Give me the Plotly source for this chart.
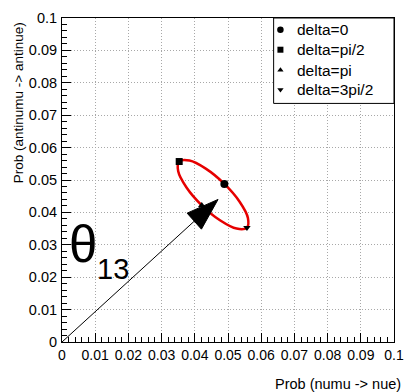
import math
import plotly.graph_objects as go

# Oscillation probabilities around the CP-phase ellipse (delta in degrees)
delta_deg = [0, 30, 60, 90, 120, 150, 180, 210, 240, 270, 300, 330, 360]
p_numu_nue = [0.0489, 0.0433, 0.0384, 0.0353, 0.0350, 0.0375, 0.0421,
              0.0477, 0.0526, 0.0557, 0.0560, 0.0535, 0.0489]
p_antinumu_antinue = [0.0488, 0.0535, 0.0560, 0.0557, 0.0527, 0.0477, 0.0422,
                      0.0375, 0.0350, 0.0353, 0.0383, 0.0433, 0.0488]

# Highlighted phases
marker_delta = [0, 90, 180, 270]
marker_labels = ["delta=0", "delta=pi/2", "delta=pi", "delta=3pi/2"]
marker_symbols = ["circle", "square", "triangle-up", "triangle-down"]
marker_sizes = [8, 7, 6.5, 6.5]
legend_sizes = [6.5, 6, 5.5, 5.5]

# theta13 direction arrow (origin -> tip)
arrow_start = (0.0, 0.0)
arrow_tip = (0.047, 0.044)

tick_vals = [0, 0.01, 0.02, 0.03, 0.04, 0.05, 0.06, 0.07, 0.08, 0.09, 0.1]
tick_text = ["0", "0.01", "0.02", "0.03", "0.04", "0.05", "0.06", "0.07",
             "0.08", "0.09", "0.1"]

W, H = 414, 392
ML, MR, MT, MB = 62, 10, 12, 50
PW, PH = W - ML - MR, H - MT - MB
XR, YR = (0.0, 0.1), (0.0, 0.1)
FONT = "Liberation Sans, Arial, sans-serif"


def to_px(x, y):
    return ((x - XR[0]) / (XR[1] - XR[0]) * PW, (y - YR[0]) / (YR[1] - YR[0]) * PH)


def to_data(px, py):
    return (XR[0] + px / PW * (XR[1] - XR[0]), YR[0] + py / PH * (YR[1] - YR[0]))


fig = go.Figure()

# ellipse
fig.add_trace(go.Scatter(
    x=p_numu_nue, y=p_antinumu_antinue, mode="lines",
    line=dict(color="#e60000", width=2.5, shape="spline", smoothing=1.0),
    hoverinfo="skip", showlegend=False))

# phase markers
for d, sym, sz in zip(marker_delta, marker_symbols, marker_sizes):
    i = delta_deg.index(d)
    fig.add_trace(go.Scatter(
        x=[p_numu_nue[i]], y=[p_antinumu_antinue[i]], mode="markers",
        marker=dict(symbol=sym, size=sz, color="black"),
        showlegend=False))

# arrow shaft and head (head built in screen space so it keeps its shape)
sx, sy = to_px(*arrow_start)
tx, ty = to_px(*arrow_tip)
L = math.hypot(tx - sx, ty - sy)
ux, uy = (tx - sx) / L, (ty - sy) / L
nx, ny = -uy, ux
head_len, head_half = 33.0, 11.0
bx, by = tx - head_len * ux, ty - head_len * uy
c1 = to_data(bx + head_half * nx, by + head_half * ny)
c2 = to_data(bx - head_half * nx, by - head_half * ny)
base = to_data(bx, by)
fig.add_trace(go.Scatter(
    x=[arrow_start[0], base[0]], y=[arrow_start[1], base[1]], mode="lines",
    line=dict(color="black", width=1), hoverinfo="skip", showlegend=False))
fig.add_trace(go.Scatter(
    x=[arrow_tip[0], c1[0], c2[0], arrow_tip[0]],
    y=[arrow_tip[1], c1[1], c2[1], arrow_tip[1]],
    mode="lines", fill="toself", fillcolor="black",
    line=dict(color="black", width=1), hoverinfo="skip", showlegend=False))

# legend box in the upper right corner
box_left_px, box_bottom_px = 218, PH - 87
bl = to_data(box_left_px, box_bottom_px)
fig.add_shape(type="rect", xref="x", yref="y", x0=bl[0], x1=XR[1], y0=bl[1], y1=YR[1],
              fillcolor="white", line=dict(color="black", width=1), layer="between")
row_px = [12, 32.3, 53, 73]
for lab, sym, sz, r in zip(marker_labels, marker_symbols, legend_sizes, row_px):
    mx, my = to_data(box_left_px + 7, PH - r)
    fig.add_trace(go.Scatter(
        x=[mx], y=[my], mode="markers",
        marker=dict(symbol=sym, size=sz, color="black"),
        hoverinfo="skip", showlegend=False))
    txx, _ = to_data(box_left_px + 22.5, 0)
    fig.add_annotation(x=txx, y=my, xref="x", yref="y", text=lab, showarrow=False,
                       xanchor="left", yanchor="middle",
                       font=dict(family=FONT, size=15.5, color="black"))

# theta_13 label
fig.add_annotation(x=0.0016, y=0.0302, xref="x", yref="y", text="θ", showarrow=False,
                   xanchor="left", yanchor="middle",
                   font=dict(family=FONT, size=51, color="black"))
fig.add_annotation(x=0.0098, y=0.0226, xref="x", yref="y", text="13", showarrow=False,
                   xanchor="left", yanchor="middle",
                   font=dict(family=FONT, size=29, color="black"))

# axis titles
fig.add_annotation(x=1.0, y=-(385 - (MT + PH)) / PH, xshift=9,
                   xref="paper", yref="paper", text="Prob (numu -> nue)",
                   showarrow=False, xanchor="right", yanchor="middle",
                   font=dict(family=FONT, size=14.5, color="black"))
fig.add_annotation(x=(18 - ML) / PW, y=(MT + PH - 98.5) / PH,
                   xref="paper", yref="paper", text="Prob (antinumu -> antinue)",
                   showarrow=False, textangle=-90, xanchor="center", yanchor="middle",
                   font=dict(family=FONT, size=13.5, color="black"))

axis_common = dict(
    showline=True, linecolor="black", linewidth=1, mirror=True,
    ticks="inside", ticklen=9, tickwidth=1, tickcolor="black",
    tickvals=tick_vals, ticktext=tick_text,
    showgrid=True, gridcolor="#a8a8a8", gridwidth=1, griddash="1px,2px",
    zeroline=False,
    minor=dict(ticks="inside", ticklen=5, tickwidth=1, tickcolor="black",
               dtick=0.002, tick0=0, showgrid=False),
)

fig.update_xaxes(range=list(XR), tickfont=dict(family=FONT, size=14, color="black"),
                 **axis_common)
fig.update_yaxes(range=list(YR), tickfont=dict(family=FONT, size=14.5, color="black"),
                 ticklabelstandoff=1, **axis_common)

fig.update_layout(
    width=W, height=H,
    margin=dict(l=ML, r=MR, t=MT, b=MB),
    paper_bgcolor="white", plot_bgcolor="white",
    showlegend=False,
)

fig.write_html("out.html")
